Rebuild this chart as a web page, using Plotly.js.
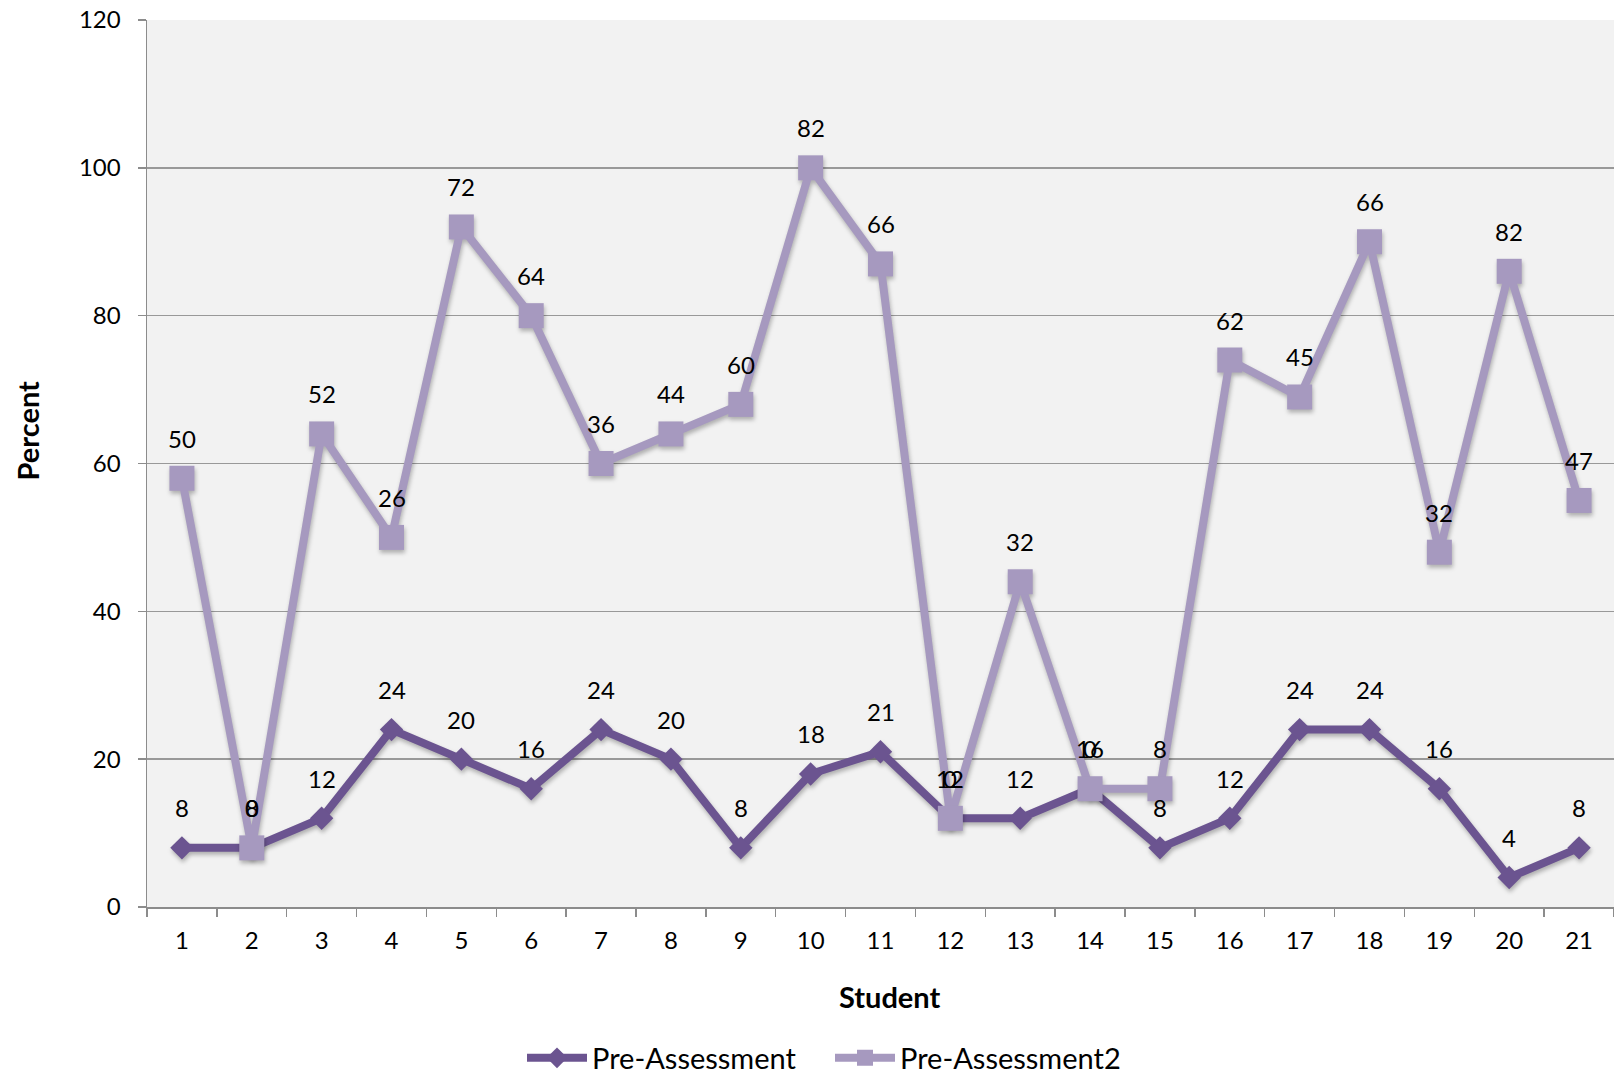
<!DOCTYPE html>
<html>
<head>
<meta charset="utf-8">
<script src="https://cdn.plot.ly/plotly-3.0.1.min.js"></script>
<style>
  html, body { margin: 0; padding: 0; background: #ffffff; }
  #chart { width: 1614px; height: 1075px; }
  .scatterlayer .trace { filter: drop-shadow(1px 3px 2px rgba(0,0,0,0.28)); }
</style>
</head>
<body>
<div id="chart"></div>
<script>
// Student numbers along the category axis
const students = ['1','2','3','4','5','6','7','8','9','10','11','12','13','14','15','16','17','18','19','20','21'];

// Scores per student (percent); the second series is stacked on the first
const preAssessment  = [8, 8, 12, 24, 20, 16, 24, 20, 8, 18, 21, 12, 12, 16, 8, 12, 24, 24, 16, 4, 8];
const preAssessment2 = [50, 0, 52, 26, 72, 64, 36, 44, 60, 82, 66, 0, 32, 0, 8, 62, 45, 66, 32, 82, 47];

const yTicks = [0, 20, 40, 60, 80, 100, 120];

const darkPurple = '#6b5490';
const lightPurple = '#a699bf';
const fontFamily = 'Lato, "Noto Sans", sans-serif';

const traces = [
  {
    name: 'Pre-Assessment',
    type: 'scatter',
    mode: 'lines+markers',
    x: students,
    y: preAssessment,
    stackgroup: 'one',
    fill: 'none',
    line: { color: darkPurple, width: 8 },
    marker: { symbol: 'diamond', size: 18, color: darkPurple }
  },
  {
    name: 'Pre-Assessment2',
    type: 'scatter',
    mode: 'lines+markers',
    x: students,
    y: preAssessment2,
    stackgroup: 'one',
    fill: 'none',
    line: { color: lightPurple, width: 8 },
    marker: { symbol: 'square', size: 25, color: lightPurple }
  }
];

// Value labels sit above each marker at its stacked height
// (x is the category index so numeric-looking names are not misread)
const annotations = [];
const stackedTop = preAssessment.map((v, i) => v + preAssessment2[i]);
students.forEach((s, i) => {
  annotations.push({
    x: i, y: preAssessment[i], xref: 'x', yref: 'y',
    text: String(preAssessment[i]), showarrow: false, yshift: 40,
    font: { family: fontFamily, size: 24, color: '#000' }
  });
});
students.forEach((s, i) => {
  annotations.push({
    x: i, y: stackedTop[i], xref: 'x', yref: 'y',
    text: String(preAssessment2[i]), showarrow: false, yshift: 40,
    font: { family: fontFamily, size: 24, color: '#000' }
  });
});

// Axis titles
annotations.push({
  text: '<b>Percent</b>', xref: 'paper', yref: 'paper',
  x: -0.0818, y: 0.5373, textangle: -90, showarrow: false,
  xanchor: 'center', yanchor: 'middle',
  font: { family: fontFamily, size: 29, color: '#000' }
});
annotations.push({
  text: '<b>Student</b>', xref: 'paper', yref: 'paper',
  x: 0.5065, y: -0.1005, showarrow: false,
  xanchor: 'center', yanchor: 'middle',
  font: { family: fontFamily, size: 29, color: '#000' }
});

const layout = {
  width: 1614,
  height: 1075,
  margin: { l: 147, r: 0, t: 19.5, b: 168.3, autoexpand: false },
  paper_bgcolor: '#ffffff',
  plot_bgcolor: '#f2f2f2',
  font: { family: fontFamily, size: 24, color: '#000' },
  showlegend: true,
  legend: {
    orientation: 'h',
    xref: 'container', yref: 'container',
    x: 522 / 1614, xanchor: 'left',
    y: 1 - 1058 / 1075, yanchor: 'middle',
    itemwidth: 60,
    entrywidth: 233,
    font: { family: fontFamily, size: 29, color: '#000' },
    bgcolor: 'rgba(0,0,0,0)',
    traceorder: 'normal'
  },
  xaxis: {
    type: 'category',
    categoryorder: 'array',
    categoryarray: students,
    range: [-0.5, students.length - 0.5],
    showgrid: false,
    zeroline: false,
    showline: true,
    linecolor: '#8c8c8c',
    linewidth: 1.5,
    ticks: 'outside',
    tickson: 'boundaries',
    ticklen: 8,
    tickwidth: 1.5,
    tickcolor: '#8c8c8c',
    ticklabelstandoff: 12,
    tickfont: { family: fontFamily, size: 24, color: '#000' },
    fixedrange: true
  },
  yaxis: {
    range: [0, 120],
    tickvals: yTicks,
    ticktext: yTicks.map(String),
    showgrid: true,
    gridcolor: '#999999',
    gridwidth: 1.5,
    zeroline: false,
    showline: true,
    linecolor: '#8c8c8c',
    linewidth: 1.5,
    ticks: 'outside',
    ticklen: 8,
    tickwidth: 1.5,
    tickcolor: '#8c8c8c',
    ticklabelstandoff: 12,
    tickfont: { family: fontFamily, size: 24, color: '#000' },
    fixedrange: true
  },
  annotations: annotations
};

Plotly.newPlot('chart', traces, layout, { displayModeBar: false, staticPlot: true });
</script>
</body>
</html>
